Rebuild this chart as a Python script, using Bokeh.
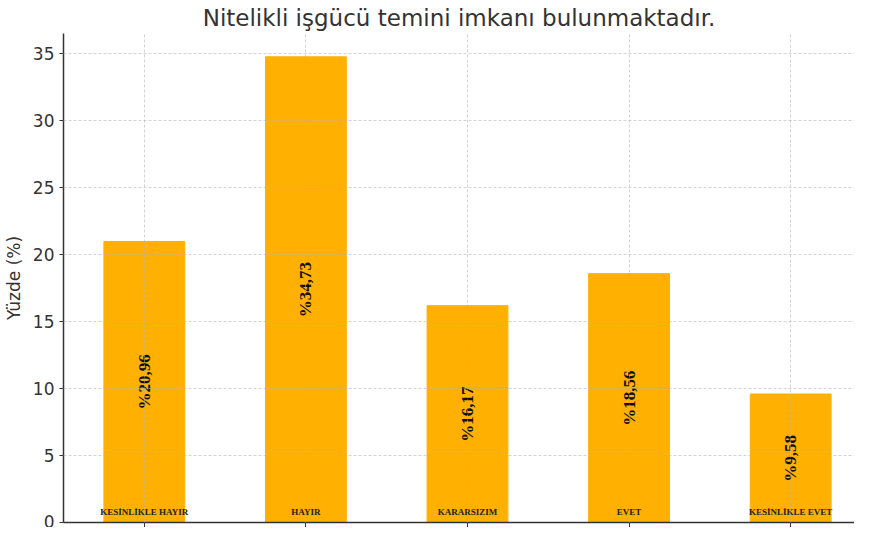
from bokeh.plotting import figure
from bokeh.models import ColumnDataSource, FixedTicker, Range1d
from bokeh.core.properties import value
from bokeh.embed import file_html
from bokeh.resources import INLINE

categories = ["KESİNLİKLE HAYIR", "HAYIR", "KARARSIZIM", "EVET", "KESİNLİKLE EVET"]
percentages = [20.96, 34.73, 16.17, 18.56, 9.58]
value_labels = ["%20,96", "%34,73", "%16,17", "%18,56", "%9,58"]
y_ticks = [0, 5, 10, 15, 20, 25, 30, 35]

xs = list(range(len(categories)))
src = ColumnDataSource(dict(
    x=xs,
    top=percentages,
    mid=[v / 2 for v in percentages],
    zero=[0] * len(xs),
    cat=categories,
    lab=value_labels,
))

p = figure(width=854, height=527, output_backend="svg", toolbar_location=None,
           x_range=Range1d(-0.5, 4.395), y_range=Range1d(0, 36.47),
           title="Nitelikli işgücü temini imkanı bulunmaktadır.",
           min_border_left=10, min_border_right=0, min_border_bottom=0, min_border_top=0)

p.title.align = "center"
p.title.text_font = "DejaVu Sans"
p.title.text_font_size = "23px"
p.title.text_font_style = "normal"
p.title.text_color = "#333333"
p.title.offset = 0
p.title.standoff = 5

p.vbar(x="x", top="top", width=0.5, bottom=0, source=src, color="#FFB000")

p.text(x="x", y="mid", text="lab", source=src, angle=1.5708,
       text_align="center", text_baseline="middle",
       text_font=value("Liberation Serif"), text_font_style="bold",
       text_font_size="17px", text_color="#111111")

p.text(x="x", y="zero", text="cat", source=src,
       text_align="center", text_baseline="middle", y_offset=-11,
       text_font=value("Liberation Serif"), text_font_style="bold",
       text_font_size="9px", text_color="#222222")

p.outline_line_color = None

p.yaxis.ticker = FixedTicker(ticks=y_ticks)
p.yaxis.axis_label = "Yüzde (%)"
p.yaxis.axis_label_text_font = "DejaVu Sans"
p.yaxis.axis_label_text_font_size = "17px"
p.yaxis.axis_label_text_font_style = "normal"
p.yaxis.axis_label_text_color = "#333333"
p.yaxis.axis_label_standoff = 6
p.yaxis.major_label_text_font = "DejaVu Sans"
p.yaxis.major_label_text_font_size = "17px"
p.yaxis.major_label_text_color = "#333333"
p.yaxis.major_tick_out = 4
p.yaxis.major_tick_in = 0
p.yaxis.minor_tick_out = 0
p.yaxis.minor_tick_in = 0
p.yaxis.axis_line_color = "#333333"
p.yaxis.axis_line_width = 1.5
p.yaxis.major_tick_line_color = "#333333"

p.xaxis.ticker = FixedTicker(ticks=xs)
p.xaxis.major_label_overrides = {i: "" for i in xs}
p.xaxis.major_label_standoff = 0
p.xaxis.major_tick_out = 5
p.xaxis.major_tick_in = 0
p.xaxis.minor_tick_out = 0
p.xaxis.axis_line_color = "#333333"
p.xaxis.axis_line_width = 1.5
p.xaxis.major_tick_line_color = "#333333"

p.xgrid.ticker = FixedTicker(ticks=xs)
p.ygrid.ticker = FixedTicker(ticks=y_ticks)
for g in (p.xgrid, p.ygrid):
    g.grid_line_color = "#b0b0b0"
    g.grid_line_dash = "3 2"
    g.grid_line_alpha = 0.7
    g.grid_line_width = 0.8
    g.level = "overlay"

open("out.html", "w").write(file_html(p, INLINE))
